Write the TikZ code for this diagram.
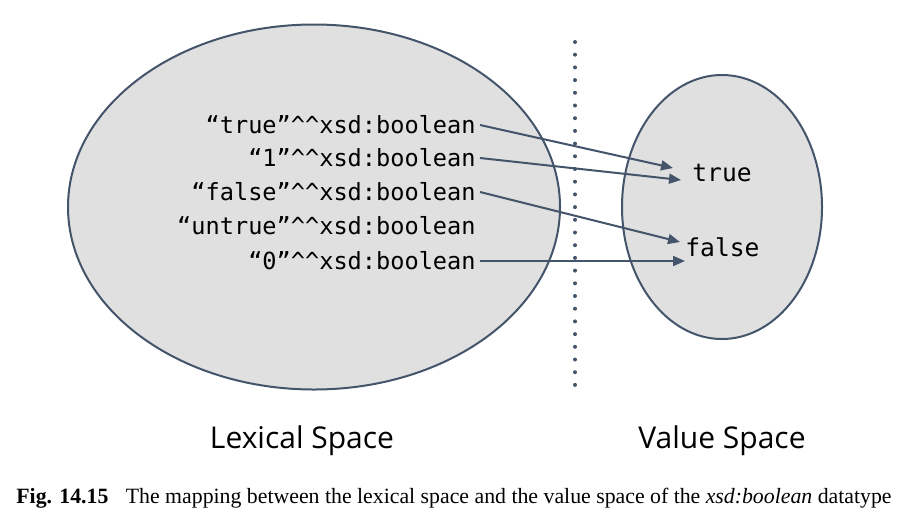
\documentclass[tikz,border=0pt]{standalone}
\usepackage{fontspec}
\setmainfont{Liberation Serif}
\setsansfont{Open Sans}
\setmonofont{DejaVu Sans Mono}
\usetikzlibrary{arrows.meta,shapes.geometric}
\definecolor{slate}{HTML}{44546A}
\definecolor{spacegrey}{HTML}{E0E0E0}
\newcommand{\xsdlit}[1]{“#1”\textasciicircum\textasciicircum xsd:boolean}
\tikzset{
  space/.style={ellipse, draw=slate, fill=spacegrey, line width=1pt, inner sep=0pt},
  lit/.style={font=\ttfamily\fontsize{11.8}{14}\selectfont, anchor=east, inner sep=2pt},
  val/.style={font=\ttfamily\fontsize{12.3}{14}\selectfont, anchor=west, inner sep=0pt},
  map/.style={draw=slate, line width=1pt, -{Triangle[length=6pt,width=5pt]}},
  title/.style={font=\sffamily\fontsize{15}{18}\selectfont}
}
\begin{document}
\begin{tikzpicture}[x=0.5pt, y=-0.5pt]
  \useasboundingbox (0,0) rectangle (913,525);
  % the two spaces
  \node[space, minimum width=246pt, minimum height=182.5pt] (lex) at (314,207) {};
  \node[space, minimum width=100pt, minimum height=132pt] (valsp) at (722,207) {};
  \draw[slate, line width=2pt, line cap=round, dash pattern=on 0pt off 6.35pt] (575,42) -- (575,388);
  % lexical forms
  \node[lit] (ltrue) at (480,125) {\xsdlit{true}};
  \node[lit] (lone) at (480,158) {\xsdlit{1}};
  \node[lit] (lfalse) at (480,192) {\xsdlit{false}};
  \node[lit] (luntrue) at (480,226) {\xsdlit{untrue}};
  \node[lit] (lzero) at (480,261) {\xsdlit{0}};
  % values
  \node[val] (vtrue) at (692,173) {true};
  \node[val] (vfalse) at (685,247) {false};
  % mappings
  \draw[map] (ltrue.east) -- ([shift={(-19,-5)}]vtrue.west);
  \draw[map] (lone.east) -- ([shift={(-11,7)}]vtrue.west);
  \draw[map] (lfalse.east) -- ([shift={(-5,-5)}]vfalse.west);
  \draw[map] (lzero.east) -- ([shift={(0,14)}]vfalse.west);
  % titles
  \node[title] (lextitle) at (302,441) {Lexical Space};
  \node[title] (valtitle) at (722,441) {Value Space};
  \node[font=\fontsize{10.9}{13}\selectfont] (caption) at (454,498)
    {\textbf{Fig. 14.15}\hspace{0.8em}The mapping between the lexical space and the value space of the \textit{xsd:boolean} datatype};
\end{tikzpicture}
\end{document}
